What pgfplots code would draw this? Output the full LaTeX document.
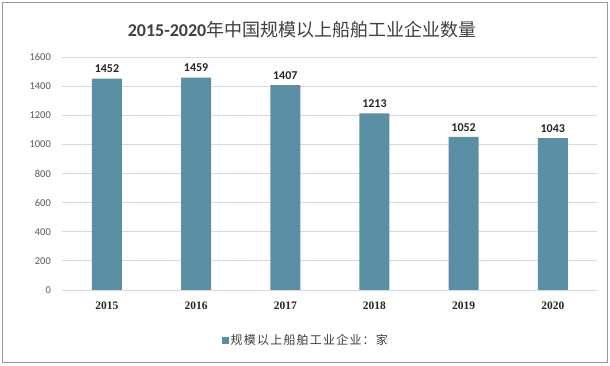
\documentclass[border=0pt]{standalone}
\usepackage{fontspec}
\setmainfont{Carlito}
\newfontfamily\cjk{Noto Sans CJK SC}
\newfontfamily\cjkleg[LetterSpace=10]{Noto Sans CJK SC}
\newfontfamily\serifb{Liberation Serif}
\usepackage{pgfplots}
\pgfplotsset{compat=1.18}
\definecolor{barc}{HTML}{5B8FA6}
\definecolor{gridc}{HTML}{D9D9D9}
\definecolor{tickc}{HTML}{595959}
\definecolor{titc}{HTML}{404040}
\begin{document}
\begin{tikzpicture}[x=1pt,y=1pt]
\fill[white] (0,0) rectangle (610,366);
\draw[color=black!40, line width=0.8pt] (2,4) rectangle (607,364);
\node[anchor=center, text=titc, inner sep=0] at (302,336) {\fontsize{18}{21}\selectfont\bfseries 2015-2020{\cjk\mdseries 年中国规模以上船舶工业企业数量}};
\begin{axis}[
  at={(62.4pt,76pt)}, anchor=south west,
  scale only axis, width=535pt, height=233pt,
  xmin=-0.5, xmax=5.5, ymin=0, ymax=1600,
  ytick={0,200,...,1600},
  xtick={0,1,2,3,4,5},
  xticklabels={2015,2016,2017,2018,2019,2020},
  axis line style={draw=none},
  major tick length=0pt,
  ymajorgrids, grid style={gridc, line width=0.8pt},
  /pgf/number format/assume math mode=true,
  /pgf/number format/1000 sep={},
  yticklabel style={font=\fontsize{10.5}{12}\selectfont, text=tickc, xshift=-8pt},
  xticklabel style={font=\fontsize{11.5}{13}\selectfont\serifb\bfseries, text=black!85, yshift=-8pt},
  ybar, bar width=30pt,
  nodes near coords,
  nodes near coords style={font=\fontsize{12}{14}\selectfont\bfseries, text=black!85, yshift=2pt},
  legend style={at={(0.455,-0.215)}, anchor=center, draw=none, fill=none,
    font=\fontsize{12}{14}\selectfont\cjkleg, text=tickc!70!black, legend cell align=left},
  legend image code/.code={\fill[barc] (0pt,-3.5pt) rectangle (7pt,3.5pt);},
]
\addplot[fill=barc, draw=none] coordinates {(0,1452) (1,1459) (2,1407) (3,1213) (4,1052) (5,1043)};
\addlegendentry{规模以上船舶工业企业：家}
\end{axis}
\end{tikzpicture}
\end{document}
